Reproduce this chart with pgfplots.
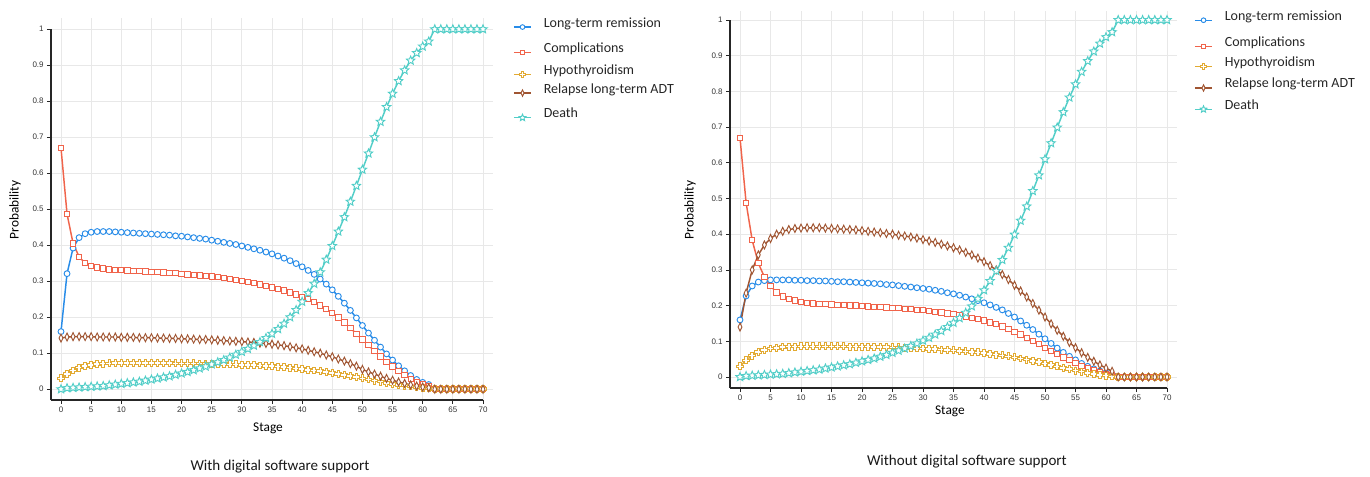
\documentclass[border=0pt]{standalone}
\usepackage{pgfplots}
\usepackage{pgfplotstable}
\pgfplotsset{compat=1.18}
\usepackage{fontspec}
\setmainfont{Carlito}
\newfontfamily\tickfont{Liberation Sans}

\definecolor{cblue}{RGB}{40,140,232}
\definecolor{cred}{RGB}{240,100,75}
\definecolor{cyellow}{RGB}{226,170,50}
\definecolor{cbrown}{RGB}{160,85,50}
\definecolor{cteal}{RGB}{82,206,200}
\definecolor{cgrid}{RGB}{232,232,232}

% outlined plus (d3 symbolCross)
\pgfdeclareplotmark{pluso}{%
  \pgfpathmoveto{\pgfqpoint{-0.36\pgfplotmarksize}{\pgfplotmarksize}}%
  \pgfpathlineto{\pgfqpoint{0.36\pgfplotmarksize}{\pgfplotmarksize}}%
  \pgfpathlineto{\pgfqpoint{0.36\pgfplotmarksize}{0.36\pgfplotmarksize}}%
  \pgfpathlineto{\pgfqpoint{\pgfplotmarksize}{0.36\pgfplotmarksize}}%
  \pgfpathlineto{\pgfqpoint{\pgfplotmarksize}{-0.36\pgfplotmarksize}}%
  \pgfpathlineto{\pgfqpoint{0.36\pgfplotmarksize}{-0.36\pgfplotmarksize}}%
  \pgfpathlineto{\pgfqpoint{0.36\pgfplotmarksize}{-\pgfplotmarksize}}%
  \pgfpathlineto{\pgfqpoint{-0.36\pgfplotmarksize}{-\pgfplotmarksize}}%
  \pgfpathlineto{\pgfqpoint{-0.36\pgfplotmarksize}{-0.36\pgfplotmarksize}}%
  \pgfpathlineto{\pgfqpoint{-\pgfplotmarksize}{-0.36\pgfplotmarksize}}%
  \pgfpathlineto{\pgfqpoint{-\pgfplotmarksize}{0.36\pgfplotmarksize}}%
  \pgfpathlineto{\pgfqpoint{-0.36\pgfplotmarksize}{0.36\pgfplotmarksize}}%
  \pgfpathclose\pgfusepathqfillstroke}
% outlined five point star
\pgfdeclareplotmark{staro}{%
  \pgfpathmoveto{\pgfpointpolar{90}{\pgfplotmarksize}}%
  \pgfpathlineto{\pgfpointpolar{126}{0.45\pgfplotmarksize}}%
  \pgfpathlineto{\pgfpointpolar{162}{\pgfplotmarksize}}%
  \pgfpathlineto{\pgfpointpolar{198}{0.45\pgfplotmarksize}}%
  \pgfpathlineto{\pgfpointpolar{234}{\pgfplotmarksize}}%
  \pgfpathlineto{\pgfpointpolar{270}{0.45\pgfplotmarksize}}%
  \pgfpathlineto{\pgfpointpolar{306}{\pgfplotmarksize}}%
  \pgfpathlineto{\pgfpointpolar{342}{0.45\pgfplotmarksize}}%
  \pgfpathlineto{\pgfpointpolar{18}{\pgfplotmarksize}}%
  \pgfpathlineto{\pgfpointpolar{54}{0.45\pgfplotmarksize}}%
  \pgfpathclose\pgfusepathqfillstroke}

% with digital software support
\pgfplotstableread{
x rem comp hypo rel death
0 0.160 0.670 0.030 0.142 0.000
1 0.321 0.487 0.042 0.145 0.003
2 0.392 0.405 0.052 0.146 0.004
3 0.421 0.368 0.060 0.146 0.005
4 0.432 0.350 0.065 0.146 0.006
5 0.436 0.342 0.068 0.146 0.007
6 0.438 0.338 0.070 0.145 0.008
7 0.438 0.335 0.071 0.145 0.009
8 0.438 0.333 0.072 0.145 0.011
9 0.437 0.332 0.073 0.145 0.013
10 0.436 0.331 0.073 0.144 0.015
11 0.435 0.330 0.073 0.144 0.017
12 0.434 0.329 0.073 0.144 0.019
13 0.433 0.328 0.073 0.143 0.021
14 0.432 0.327 0.073 0.143 0.024
15 0.431 0.326 0.073 0.143 0.027
16 0.430 0.325 0.073 0.142 0.030
17 0.429 0.324 0.073 0.142 0.033
18 0.428 0.323 0.073 0.141 0.036
19 0.426 0.322 0.072 0.141 0.040
20 0.425 0.321 0.072 0.140 0.044
21 0.423 0.319 0.072 0.140 0.048
22 0.421 0.318 0.072 0.139 0.053
23 0.419 0.316 0.071 0.138 0.058
24 0.417 0.315 0.071 0.138 0.063
25 0.414 0.313 0.071 0.137 0.069
26 0.411 0.311 0.070 0.136 0.075
27 0.408 0.309 0.070 0.135 0.081
28 0.405 0.307 0.069 0.134 0.088
29 0.402 0.304 0.069 0.133 0.096
30 0.398 0.301 0.068 0.132 0.104
31 0.394 0.298 0.067 0.131 0.112
32 0.390 0.295 0.067 0.130 0.121
33 0.386 0.291 0.066 0.128 0.131
34 0.381 0.287 0.065 0.127 0.142
35 0.376 0.283 0.064 0.125 0.154
36 0.370 0.279 0.063 0.123 0.167
37 0.364 0.274 0.062 0.121 0.182
38 0.357 0.269 0.060 0.118 0.200
39 0.349 0.263 0.058 0.115 0.220
40 0.340 0.257 0.056 0.112 0.243
41 0.330 0.250 0.054 0.108 0.267
42 0.319 0.242 0.052 0.104 0.293
43 0.306 0.233 0.050 0.100 0.325
44 0.292 0.223 0.048 0.095 0.360
45 0.276 0.212 0.045 0.090 0.398
46 0.258 0.199 0.043 0.084 0.438
47 0.239 0.185 0.040 0.078 0.478
48 0.219 0.170 0.037 0.071 0.521
49 0.198 0.154 0.034 0.064 0.565
50 0.177 0.138 0.030 0.055 0.610
51 0.156 0.122 0.027 0.048 0.655
52 0.136 0.106 0.024 0.042 0.700
53 0.117 0.091 0.021 0.036 0.743
54 0.098 0.076 0.018 0.030 0.784
55 0.081 0.063 0.015 0.025 0.821
56 0.065 0.050 0.012 0.020 0.856
57 0.051 0.039 0.010 0.016 0.886
58 0.038 0.029 0.008 0.012 0.913
59 0.027 0.021 0.006 0.009 0.934
60 0.019 0.014 0.004 0.006 0.952
61 0.013 0.009 0.002 0.004 0.966
62 0 0 0 0 1
63 0 0 0 0 1
64 0 0 0 0 1
65 0 0 0 0 1
66 0 0 0 0 1
67 0 0 0 0 1
68 0 0 0 0 1
69 0 0 0 0 1
70 0 0 0 0 1
}\withsw

% without digital software support
\pgfplotstableread{
x rem comp hypo rel death
0 0.160 0.670 0.030 0.140 0.000
1 0.227 0.488 0.047 0.235 0.003
2 0.255 0.383 0.060 0.300 0.004
3 0.266 0.319 0.070 0.342 0.005
4 0.270 0.280 0.076 0.370 0.006
5 0.272 0.255 0.080 0.388 0.007
6 0.272 0.237 0.082 0.400 0.008
7 0.272 0.226 0.084 0.408 0.009
8 0.272 0.219 0.085 0.413 0.011
9 0.271 0.214 0.085 0.416 0.013
10 0.271 0.210 0.086 0.417 0.015
11 0.270 0.208 0.086 0.418 0.017
12 0.270 0.206 0.086 0.418 0.019
13 0.269 0.205 0.086 0.418 0.021
14 0.269 0.204 0.086 0.417 0.024
15 0.268 0.203 0.086 0.416 0.027
16 0.267 0.202 0.086 0.415 0.030
17 0.267 0.201 0.086 0.414 0.033
18 0.266 0.200 0.085 0.413 0.036
19 0.265 0.200 0.085 0.412 0.040
20 0.264 0.199 0.085 0.410 0.044
21 0.263 0.198 0.085 0.408 0.048
22 0.262 0.197 0.084 0.406 0.052
23 0.261 0.196 0.084 0.404 0.057
24 0.259 0.195 0.084 0.402 0.062
25 0.258 0.194 0.083 0.400 0.068
26 0.256 0.193 0.083 0.397 0.074
27 0.254 0.191 0.082 0.395 0.080
28 0.252 0.190 0.081 0.392 0.087
29 0.250 0.188 0.080 0.389 0.094
30 0.248 0.187 0.080 0.385 0.102
31 0.246 0.185 0.079 0.381 0.110
32 0.243 0.183 0.078 0.377 0.119
33 0.240 0.181 0.077 0.372 0.129
34 0.236 0.178 0.076 0.367 0.140
35 0.233 0.176 0.075 0.362 0.152
36 0.229 0.173 0.073 0.356 0.165
37 0.224 0.170 0.072 0.349 0.180
38 0.219 0.166 0.070 0.342 0.198
39 0.214 0.162 0.069 0.333 0.219
40 0.208 0.158 0.067 0.323 0.243
41 0.202 0.153 0.065 0.312 0.269
42 0.195 0.148 0.063 0.300 0.297
43 0.188 0.142 0.061 0.287 0.328
44 0.178 0.135 0.058 0.273 0.362
45 0.168 0.127 0.055 0.257 0.399
46 0.157 0.119 0.052 0.241 0.438
47 0.145 0.110 0.049 0.224 0.478
48 0.133 0.101 0.045 0.206 0.521
49 0.120 0.092 0.042 0.187 0.565
50 0.107 0.082 0.038 0.168 0.610
51 0.094 0.073 0.034 0.149 0.655
52 0.081 0.064 0.030 0.131 0.699
53 0.069 0.055 0.026 0.114 0.742
54 0.058 0.047 0.022 0.097 0.783
55 0.048 0.039 0.018 0.082 0.820
56 0.038 0.031 0.015 0.068 0.855
57 0.030 0.024 0.012 0.055 0.885
58 0.023 0.018 0.009 0.044 0.912
59 0.017 0.013 0.006 0.034 0.934
60 0.012 0.009 0.004 0.025 0.952
61 0.008 0.006 0.002 0.016 0.966
62 0 0 0 0 1
63 0 0 0 0 1
64 0 0 0 0 1
65 0 0 0 0 1
66 0 0 0 0 1
67 0 0 0 0 1
68 0 0 0 0 1
69 0 0 0 0 1
70 0 0 0 0 1
}\withoutsw

\pgfplotsset{
  stagechart/.style={
    scale only axis, clip=false,
    axis x line*=bottom, axis y line*=left,
    axis line style={line width=0.9pt, black!85},
    grid=major, major grid style={line width=0.7pt, cgrid},
    xtick={0,5,...,70},
    ytick={0,0.1,0.2,0.3,0.4,0.5,0.6,0.7,0.8,0.9,1},
    tick align=outside, major tick length=3pt,
    tick style={line width=0.6pt, black!85},
    /pgf/number format/assume math mode=true,
    tick label style={font=\tickfont\fontsize{6}{7}\selectfont, text=black!80},
    xticklabel style={yshift=1pt},
    yticklabel style={xshift=1pt},
    label style={font=\fontsize{10}{12}\selectfont, text=black!90},
    xlabel={Stage}, ylabel={Probability},
    legend style={draw=none, fill=none, anchor=north west, inner sep=0pt,
      row sep=0pt, cells={anchor=base west},
      nodes={inner sep=0pt, font=\fontsize{10.5}{12}\selectfont, text=black!85},
      /tikz/every odd column/.append style={column sep=9pt}},
  },
  % legend image with invisible height/depth to space the legend rows
  lg/.style 2 args={legend image code/.code={\draw[mark repeat=2,mark phase=2,
      every mark/.append style={scale=0.8}]
      plot coordinates {(0pt,0pt)(6.4pt,0pt)(12.8pt,0pt)};
      \path[draw=none,fill=none] (6.4pt,#1) -- (6.4pt,-#2);}},
  srem/.style={cblue, line width=1.1pt, mark=*, mark size=2.2pt, mark options={fill=white, line width=0.7pt}},
  scomp/.style={cred, line width=1.1pt, mark=square*, mark size=2pt, mark options={fill=white, line width=0.7pt}},
  shypo/.style={cyellow, line width=1.1pt, mark=pluso, mark size=2.6pt, mark options={fill=white, line width=0.7pt}},
  srel/.style={cbrown, line width=1.1pt, mark=diamond*, mark size=3pt, mark options={fill=white, line width=0.7pt, xscale=0.65}},
  sdeath/.style={cteal, line width=1.1pt, mark=staro, mark size=3.3pt, mark options={fill=white, line width=0.7pt}},
}

\begin{document}
\begin{tikzpicture}
\useasboundingbox (0,0) rectangle (1027.5pt,-357pt);

\begin{axis}[stagechart,
  at={(38.25pt,-300pt)}, anchor=south west,
  width=331.5pt, height=286.2pt,
  xmin=-1.66, xmax=71.66, ymin=-0.03, ymax=1.03,
  x axis line style={shorten >=7.5pt},
  y axis line style={shorten >=7.9pt},
  every axis x label/.style={at={(axis description cs:0.491,-0.0734)}, anchor=center},
  every axis y label/.style={at={(axis description cs:-0.0814,0.498)}, rotate=90, anchor=center},
  legend style={at={(axis description cs:1.0452,1.006)}},
]
\addplot[srem, lg={8pt}{11pt}] table[x=x,y=rem] {\withsw};
\addlegendentry{Long-term remission}
\addplot[scomp, lg={8pt}{8.5pt}] table[x=x,y=comp] {\withsw};
\addlegendentry{Complications}
\addplot[shypo, lg={8pt}{6pt}] table[x=x,y=hypo] {\withsw};
\addlegendentry{Hypothyroidism}
\addplot[srel, lg={8pt}{10.5pt}] table[x=x,y=rel] {\withsw};
\addlegendentry{Relapse long-term ADT}
\addplot[sdeath, lg={8pt}{3pt}] table[x=x,y=death] {\withsw};
\addlegendentry{Death}
\node[font=\fontsize{11.3}{13}\selectfont, text=black!90] at (axis description cs:0.518,-0.1756) {With digital software support};
\end{axis}

\begin{axis}[stagechart,
  at={(547.5pt,-291pt)}, anchor=south west,
  width=335.25pt, height=282.7pt,
  xmin=-1.64, xmax=71.64, ymin=-0.0308, ymax=1.025,
  x axis line style={shorten >=7.5pt},
  y axis line style={shorten >=6.7pt},
  every axis x label/.style={at={(axis description cs:0.492,-0.061)}, anchor=center},
  every axis y label/.style={at={(axis description cs:-0.0895,0.472)}, rotate=90, anchor=center},
  legend style={at={(axis description cs:1.038,1.0047)}},
]
\addplot[srem, lg={8pt}{11.6pt}] table[x=x,y=rem] {\withoutsw};
\addlegendentry{Long-term remission}
\addplot[scomp, lg={8pt}{7.2pt}] table[x=x,y=comp] {\withoutsw};
\addlegendentry{Complications}
\addplot[shypo, lg={8pt}{8pt}] table[x=x,y=hypo] {\withoutsw};
\addlegendentry{Hypothyroidism}
\addplot[srel, lg={8pt}{8pt}] table[x=x,y=rel] {\withoutsw};
\addlegendentry{Relapse long-term ADT}
\addplot[sdeath, lg={8pt}{3pt}] table[x=x,y=death] {\withoutsw};
\addlegendentry{Death}
\node[font=\fontsize{11.3}{13}\selectfont, text=black!90] at (axis description cs:0.530,-0.196) {Without digital software support};
\end{axis}
\end{tikzpicture}
\end{document}
